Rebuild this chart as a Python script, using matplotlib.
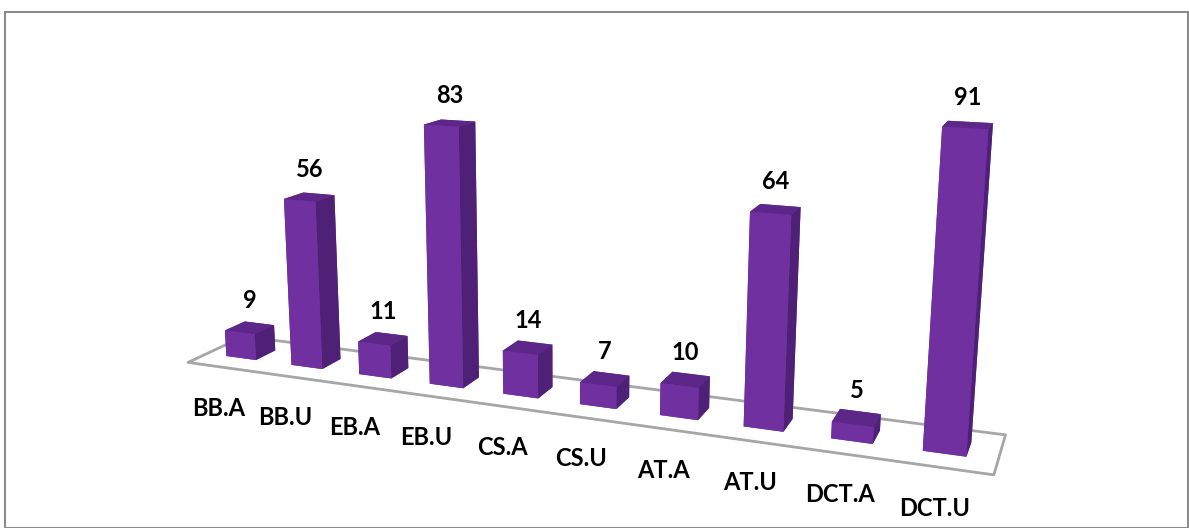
import matplotlib
matplotlib.use("Agg")
import matplotlib.pyplot as plt
import numpy as np
from mpl_toolkits.mplot3d import proj3d
from mpl_toolkits.mplot3d.art3d import Poly3DCollection

# data
categories = ['BB.A', 'BB.U', 'EB.A', 'EB.U', 'CS.A', 'CS.U', 'AT.A', 'AT.U', 'DCT.A', 'DCT.U']
values = [9, 56, 11, 83, 14, 7, 10, 64, 5, 91]

FRONT = '#7030A0'
TOP = '#5C2788'
SIDE = '#4E2176'

plt.rcParams['font.family'] = ['Lato', 'DejaVu Sans']

fig = plt.figure(figsize=(11.89, 5.28), dpi=100)
ax = fig.add_axes([-0.03, 0.035, 1.0, 1.0], projection='3d')
ax.computed_zorder = False

x0, x1 = -0.55, 9.55
y0, y1 = 0.0, 1.0
ax.set_xlim(x0, x1)
ax.set_ylim(y0, y1)
ax.set_zlim(0, 100)
ax.set_box_aspect((10.1, 1.25, 3.9), zoom=1.7)
ax.view_init(elev=13, azim=-68)
ax.set_proj_type('persp', focal_length=0.5)
ax.set_axis_off()

# floor
floor = Poly3DCollection([[(x0, y0, 0), (x1, y0, 0), (x1, y1, 0), (x0, y1, 0)]],
                         facecolor='white', edgecolor='#A6A6A6', linewidth=2, zorder=1)
ax.add_collection3d(floor)
floor.set_clip_on(False)

# bars
n = len(values)
w = 0.46
d = 0.36
xs = np.arange(n) - w / 2
ys = np.full(n, (y0 + y1) / 2 - d / 2)
face_colors = []
for _ in range(n):
    # -z, +z, -y, +y, -x, +x
    face_colors += [FRONT, TOP, FRONT, FRONT, FRONT, SIDE]
bars = ax.bar3d(xs, ys, np.zeros(n), w, d, values, color=face_colors, shade=False,
                edgecolor='none', zorder=2)
bars.set_clip_on(False)

# labels: project 3D anchor points to the figure
fig.canvas.draw()


def to_fig(x, y, z):
    px, py, _ = proj3d.proj_transform(x, y, z, ax.M)
    dx, dy = ax.transData.transform((px, py))
    return fig.transFigure.inverted().transform((dx, dy))


for i, v in enumerate(values):
    fx, fy = to_fig(i, 0.5, v)
    fig.text(fx, fy + 0.03, str(v), ha='center', va='bottom', fontsize=17,
             fontweight='bold')
    fx, fy = to_fig(i, 0.0, 0)
    fig.text(fx - 0.004, fy - 0.078, categories[i], ha='center', va='center',
             fontsize=17, fontweight='bold')

# outer frame
fig.patches.append(plt.Rectangle((0.004, 0.0), 0.995, 0.978, transform=fig.transFigure,
                                 fill=False, edgecolor='#8C8C8C', linewidth=1.5))

fig.savefig('out.png', dpi=100)
